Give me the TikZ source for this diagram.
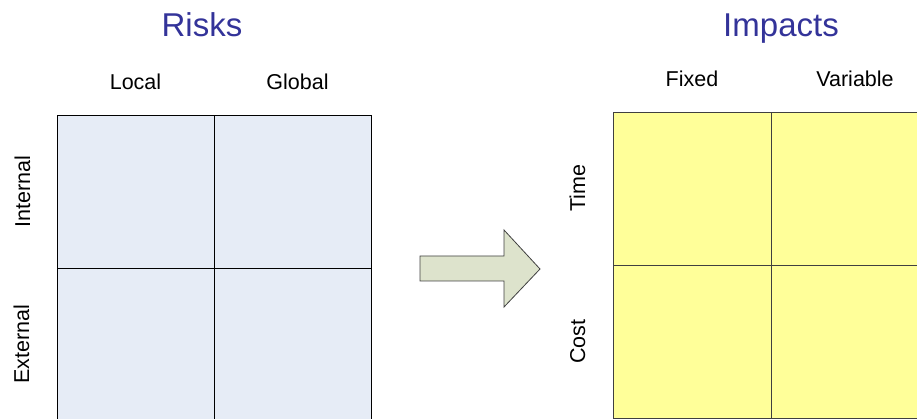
\documentclass[tikz,border=0pt]{standalone}
\usepackage{fontspec}
\setmainfont{Liberation Sans}
\usetikzlibrary{positioning}
\definecolor{riskfill}{RGB}{230,236,246}
\definecolor{impactfill}{RGB}{255,255,153}
\definecolor{titleblue}{RGB}{51,51,153}
\definecolor{arrowfill}{RGB}{221,227,204}

\begin{document}
\begin{tikzpicture}[x=1pt,y=1pt,
   cell/.style={draw,rectangle,line width=0.8pt,inner sep=0pt,outer sep=0pt,
      minimum height=153},
   riskcell/.style={cell,fill=riskfill,minimum width=157},
   impactcell/.style={cell,fill=impactfill,draw=black!75,minimum width=158},
   heading/.style={font=\fontsize{33}{40}\selectfont,text=titleblue,anchor=base},
   axislabel/.style={font=\fontsize{21.5}{25}\selectfont,anchor=base},
   sidelabel/.style={axislabel,rotate=90}]

\useasboundingbox (0,0) rectangle (917,-419);
\clip (0,0) rectangle (917,-419);

% risks grid
\node[riskcell,anchor=north west] (il) at (57,-115) {};
\node[riskcell,right=0pt of il] (ig) {};
\node[riskcell,below=0pt of il] (el) {};
\node[riskcell,below=0pt of ig] (eg) {};

\node[heading] (risks) at (202,-37) {Risks};
\node[axislabel] (local) at ([yshift=25]il.north) {Local};
\node[axislabel] (global) at ([xshift=5,yshift=25]ig.north) {Global};
\node[sidelabel] (internal) at ([xshift=-27]il.west) {Internal};
\node[sidelabel] (external) at ([xshift=-28]el.west) {External};

% impacts grid
\node[impactcell,anchor=north west] (tf) at (613,-112) {};
\node[impactcell,right=0pt of tf] (tv) {};
\node[impactcell,below=0pt of tf] (cf) {};
\node[impactcell,below=0pt of tv] (cv) {};

\node[heading] (impacts) at (781,-37) {Impacts};
\node[axislabel] (fixed) at ([yshift=25]tf.north) {Fixed};
\node[axislabel] (variable) at ([xshift=5,yshift=25]tv.north) {Variable};
\node[sidelabel] (time) at ([xshift=-28]tf.west) {Time};
\node[sidelabel] (cost) at ([xshift=-28]cf.west) {Cost};

% block arrow between the grids
\coordinate (arr) at (420,-269);
\draw[fill=arrowfill,draw=black!75,line width=0.8pt]
   (arr) ++(0,13) -- ++(84,0) -- ++(0,26) -- (540,-269)
   -- (504,-307) -- ++(0,26) -- ++(-84,0) -- cycle;

\end{tikzpicture}
\end{document}
